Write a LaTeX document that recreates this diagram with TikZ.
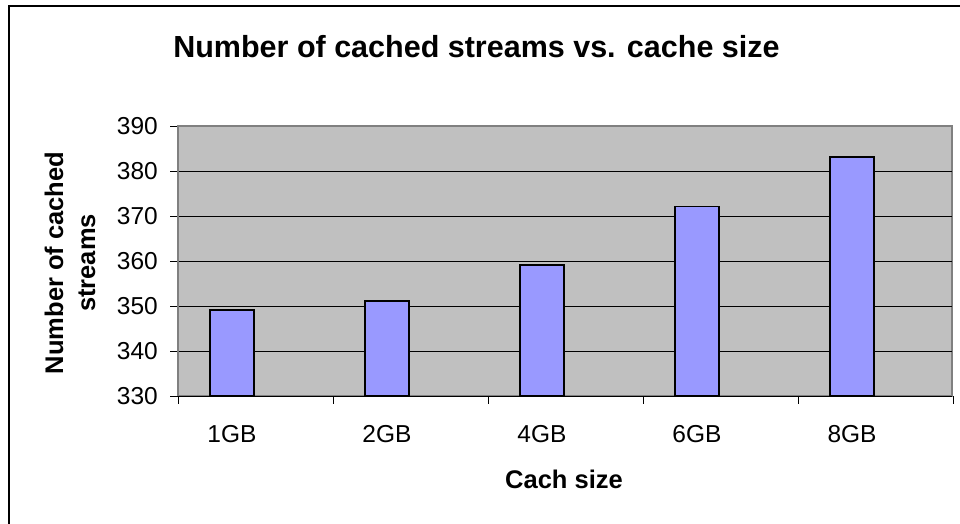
\documentclass[tikz,border=0pt]{standalone}
\usepackage{fontspec}
\setmainfont{Liberation Sans}
\usepackage{xcolor}
\usetikzlibrary{positioning}
\definecolor{plotgray}{RGB}{192,192,192}
\definecolor{framegray}{RGB}{128,128,128}
\definecolor{barblue}{RGB}{153,153,255}
\tikzset{
  chartframe/.style={draw=black, line width=2pt},
  plotarea/.style={fill=plotgray, draw=framegray, line width=2pt},
  gridline/.style={draw=black, line width=0.8pt},
  axisline/.style={draw=black, line width=0.9pt},
  bar/.style={rectangle, draw=black, line width=1.5pt, fill=barblue, inner sep=0pt, minimum width=44pt},
  ticklabel/.style={inner sep=0pt, font=\fontsize{24.5}{29}\selectfont},
  axistitle/.style={inner sep=0pt, font=\fontsize{25.5}{32}\selectfont\bfseries},
  charttitle/.style={inner sep=0pt, font=\fontsize{30.5}{36}\selectfont\bfseries}
}

\begin{document}
\begin{tikzpicture}[x=1pt, y=-1pt]
  \useasboundingbox (0,0) rectangle (960,524);
  \clip (0,0) rectangle (960,524);
  \fill[white] (0,0) rectangle (960,524);

  % Chart frame (runs off the right and bottom edge)
  \draw[chartframe] (9,6) rectangle (975,540);

  % Title
  \node[charttitle, anchor=base] (title) at (476.5,58) {Number of cached streams vs. cache size};

  % Plot area
  \draw[plotarea] (178,126) rectangle (952,396);

  % Gridlines, ticks and value labels (330 ... 390)
  \foreach \v in {330,340,...,390} {
    \coordinate (g\v) at (178,{396-(\v-330)*4.5});
    \coordinate (t\v) at (170,{396-(\v-330)*4.5});
    \node[ticklabel, anchor=east] (l\v) at (158,{396-(\v-330)*4.5}) {\v};
    \draw[axisline] (t\v) -- (g\v);
  }
  \foreach \v in {340,350,...,380} {
    \coordinate (e\v) at (952,{396-(\v-330)*4.5});
    \draw[gridline] (g\v) -- (e\v);
  }

  % Axes
  \coordinate (origin) at (178,396);
  \coordinate (xend) at (952,396);
  \coordinate (yend) at (178,126);
  \draw[framegray, line width=1.2pt] (origin) -- (yend);
  \draw[axisline] (origin) -- (xend);

  % Category ticks
  \foreach \i in {0,...,5} {
    \coordinate (c\i) at ({178+155*\i},396);
    \coordinate (d\i) at ({178+155*\i},404);
    \draw[axisline] (c\i) -- (d\i);
  }

  % Bars and category labels
  \foreach \i/\lab/\val in {0/1GB/349, 1/2GB/351, 2/4GB/359, 3/6GB/372, 4/8GB/383} {
    \node[bar, anchor=south, minimum height={(\val-330)*4.5}] (b\i) at ({232+155*\i},396) {};
    \node[ticklabel, anchor=base] (x\i) at ({232+155*\i},442) {\lab};
  }

  % Axis titles
  \node[axistitle, anchor=base] (xtitle) at (564,488) {Cach size};
  \node[axistitle, rotate=90, align=center] (ytitle) at (70,263) {Number of cached\\streams};
\end{tikzpicture}
\end{document}
